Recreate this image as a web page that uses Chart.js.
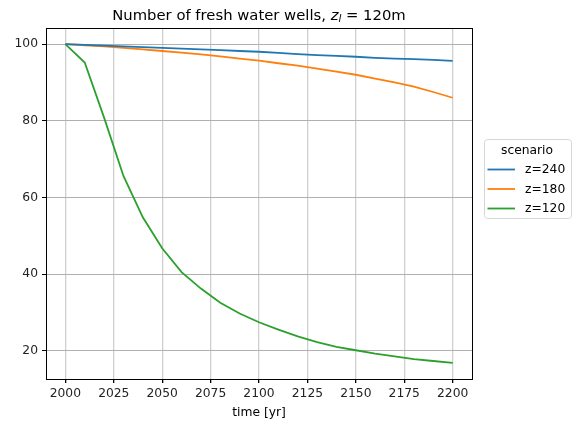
<!DOCTYPE html>
<html>
<head>
<meta charset="utf-8">
<script src="https://cdn.jsdelivr.net/npm/chart.js@4/dist/chart.umd.min.js"></script>
<style>
  html, body { margin: 0; padding: 0; background: #fff; }
  #wrap { width: 573px; height: 421px; position: relative; }
</style>
</head>
<body>
<div id="wrap"><canvas id="c"></canvas></div>
<script>
// Simulation years (every 10 years)
const years = [2000, 2010, 2020, 2030, 2040, 2050, 2060, 2070, 2080, 2090, 2100,
               2110, 2120, 2130, 2140, 2150, 2160, 2170, 2180, 2190, 2200];

// Number of fresh water wells per scenario
const wellsZ240 = [100, 99.8, 99.6, 99.4, 99.2, 99.0, 98.8, 98.6, 98.4, 98.2, 98.0,
                   97.7, 97.4, 97.1, 96.9, 96.7, 96.4, 96.2, 96.1, 95.9, 95.6];
const wellsZ180 = [100, 99.7, 99.4, 99.0, 98.6, 98.2, 97.8, 97.3, 96.8, 96.2, 95.7,
                   95.0, 94.4, 93.6, 92.8, 92.0, 91.0, 90.0, 88.9, 87.5, 86.0];
const wellsZ120 = [100, 95.2, 80.8, 65.6, 54.8, 46.7, 40.5, 36.2, 32.5, 29.7, 27.4,
                   25.5, 23.7, 22.2, 21.0, 20.1, 19.2, 18.5, 17.8, 17.3, 16.8];

const scenarioLabels = ['z=240', 'z=180', 'z=120'];
const seriesColors = ['#1f77b4', '#ff7f0e', '#2ca02c'];

const xTicks = [2000, 2025, 2050, 2075, 2100, 2125, 2150, 2175, 2200];
const yTicks = [20, 40, 60, 80, 100];

const FONT = '"DejaVu Sans", "Liberation Sans", sans-serif';
const TICK_SIZE = 12.3;
const TITLE_SIZE = 14.8;

function pts(values) {
  return years.map((yr, i) => ({ x: yr, y: values[i] }));
}

// Title with mathtext-like z_l part
const titlePlugin = {
  id: 'richTitle',
  afterDraw(chart) {
    const ctx = chart.ctx;
    const area = chart.chartArea;
    const size = TITLE_SIZE;
    const parts = [
      { t: 'Number of fresh water wells, ', f: `${size}px ${FONT}`, dy: 0 },
      { t: 'z', f: `italic ${size}px ${FONT}`, dy: 0 },
      { t: 'l', f: `italic ${size * 0.7}px ${FONT}`, dy: 2.8 },
      { t: ' = 120m', f: `${size}px ${FONT}`, dy: 0 }
    ];
    ctx.save();
    ctx.fillStyle = '#000';
    ctx.textBaseline = 'alphabetic';
    let total = 0;
    parts.forEach(p => { ctx.font = p.f; p.w = ctx.measureText(p.t).width; total += p.w; });
    let x = (area.left + area.right) / 2 - total / 2;
    const base = 19.5;
    parts.forEach(p => {
      ctx.font = p.f;
      ctx.textAlign = 'left';
      ctx.fillText(p.t, x, base + p.dy);
      x += p.w;
    });
    ctx.restore();
  }
};

// Axes frame on all four sides
const framePlugin = {
  id: 'frame',
  afterDatasetsDraw(chart) {
    const { ctx, chartArea: a } = chart;
    ctx.save();
    ctx.strokeStyle = '#000';
    ctx.lineWidth = 1;
    ctx.strokeRect(Math.round(a.left) + 0.5, Math.round(a.top) + 0.5,
                   Math.round(a.right - a.left), Math.round(a.bottom - a.top));
    ctx.restore();
  }
};

// Legend box outside the axes on the right
const legendPlugin = {
  id: 'sideLegend',
  afterDraw(chart) {
    const ctx = chart.ctx;
    const x0 = 484.5, y0 = 139.5, w = 87, h = 79, r = 3;
    ctx.save();
    ctx.beginPath();
    ctx.moveTo(x0 + r, y0);
    ctx.arcTo(x0 + w, y0, x0 + w, y0 + h, r);
    ctx.arcTo(x0 + w, y0 + h, x0, y0 + h, r);
    ctx.arcTo(x0, y0 + h, x0, y0, r);
    ctx.arcTo(x0, y0, x0 + w, y0, r);
    ctx.closePath();
    ctx.fillStyle = 'rgba(255,255,255,0.8)';
    ctx.fill();
    ctx.strokeStyle = '#d6d6d6';
    ctx.lineWidth = 1;
    ctx.stroke();

    ctx.font = `${TICK_SIZE}px ${FONT}`;
    ctx.fillStyle = '#000';
    ctx.textBaseline = 'middle';
    ctx.textAlign = 'center';
    ctx.fillText('scenario', 527, 151);
    ctx.textAlign = 'left';
    chart.data.datasets.forEach((ds, i) => {
      const y = 169.5 + i * 19.5;
      ctx.strokeStyle = ds.borderColor;
      ctx.lineWidth = 1.8;
      ctx.beginPath();
      ctx.moveTo(487.5, y);
      ctx.lineTo(515, y);
      ctx.stroke();
      ctx.fillText(ds.label, 525, y + 0.5);
    });
    ctx.restore();
  }
};

const datasets = [wellsZ240, wellsZ180, wellsZ120].map((vals, i) => ({
  label: scenarioLabels[i],
  data: pts(vals),
  borderColor: seriesColors[i],
  backgroundColor: seriesColors[i],
  borderWidth: 1.8,
  pointRadius: 0,
  tension: 0,
  fill: false
}));

new Chart(document.getElementById('c'), {
  type: 'line',
  data: { datasets },
  options: {
    responsive: true,
    maintainAspectRatio: false,
    animation: false,
    devicePixelRatio: 1,
    layout: { padding: { top: 28, right: 101, left: 0, bottom: 0 } },
    plugins: {
      legend: { display: false },
      title: { display: false },
      tooltip: { enabled: false }
    },
    scales: {
      x: {
        type: 'linear',
        min: 1990,
        max: 2210,
        afterBuildTicks(scale) { scale.ticks = xTicks.map(v => ({ value: v })); },
        afterFit(scale) { scale.height = 42; },
        grid: { color: '#cfcfcf', lineWidth: 1.3, tickColor: '#000', tickLength: 4, drawTicks: true },
        border: { display: false },
        ticks: {
          color: '#222',
          font: { family: FONT, size: TICK_SIZE },
          padding: 3,
          maxRotation: 0,
          autoSkip: false,
          callback: v => String(v)
        },
        title: {
          display: true,
          text: 'time [yr]',
          color: '#000',
          font: { family: FONT, size: TICK_SIZE },
          padding: { top: 0, bottom: 1 }
        }
      },
      y: {
        type: 'linear',
        min: 12.6,
        max: 104.2,
        afterBuildTicks(scale) { scale.ticks = yTicks.map(v => ({ value: v })); },
        afterFit(scale) { scale.width = 46; },
        grid: { color: '#b0b0b0', lineWidth: 1, tickColor: '#000', tickLength: 4, drawTicks: true },
        border: { display: false },
        ticks: {
          color: '#222',
          font: { family: FONT, size: TICK_SIZE },
          padding: 4,
          callback: v => String(v)
        }
      }
    }
  },
  plugins: [titlePlugin, framePlugin, legendPlugin]
});
</script>
</body>
</html>
